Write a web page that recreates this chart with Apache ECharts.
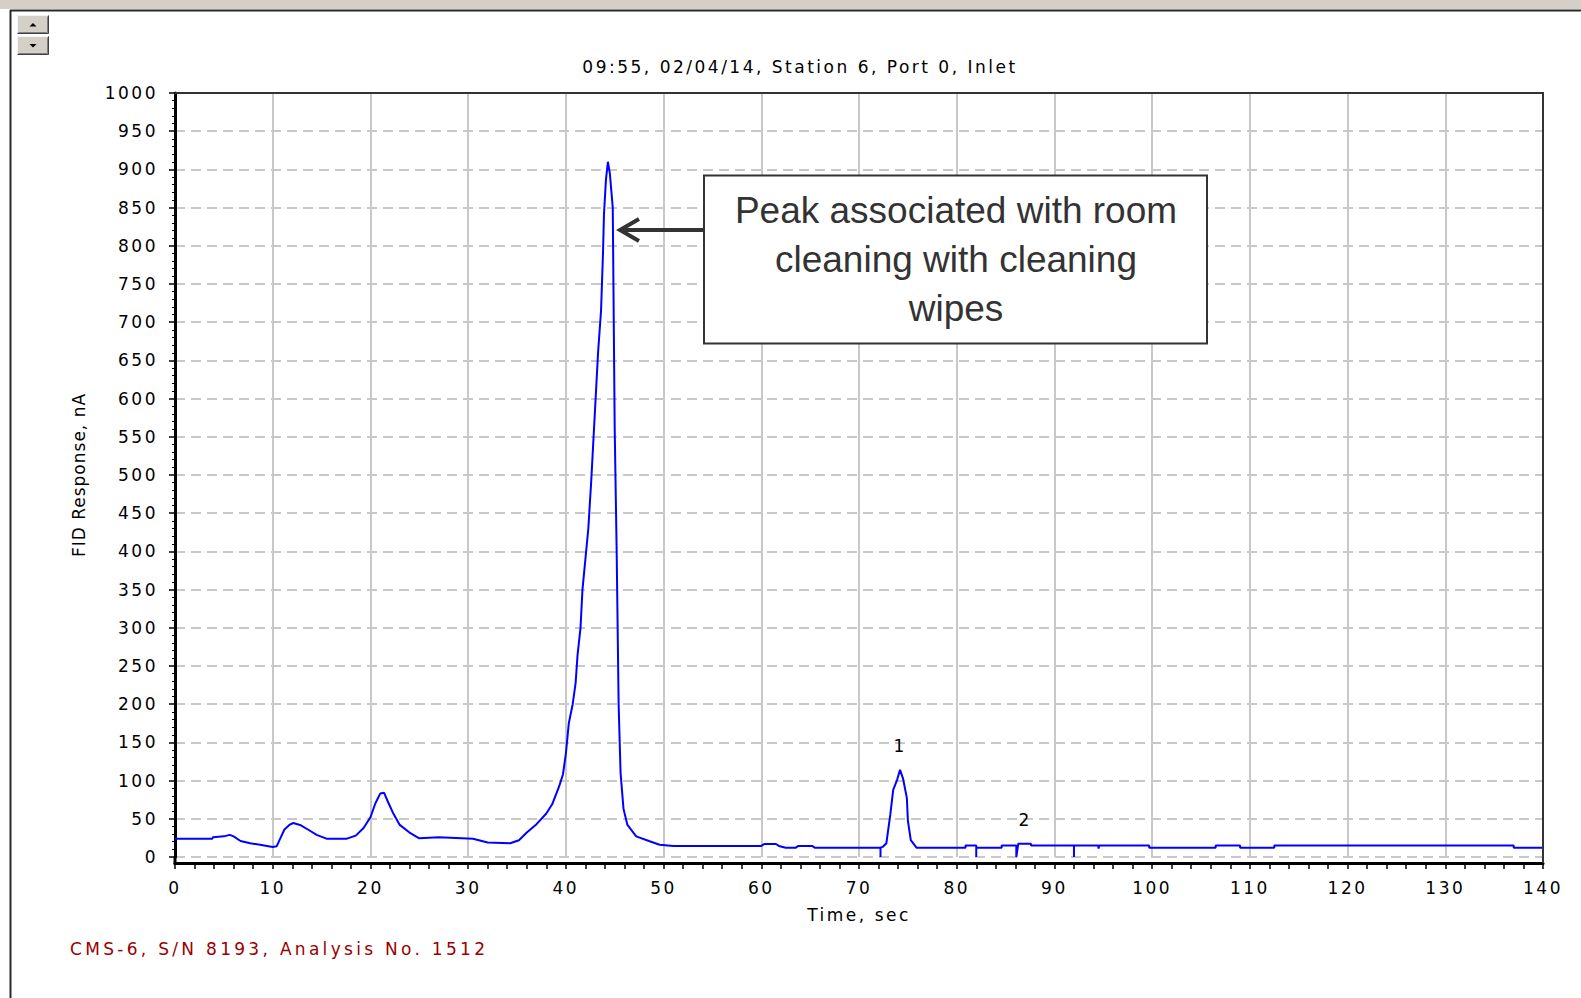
<!DOCTYPE html>
<html>
<head>
<meta charset="utf-8">
<script src="https://cdn.jsdelivr.net/npm/echarts@6/dist/echarts.min.js"></script>
<style>
  html, body { margin: 0; padding: 0; background: #fff; }
  #chart { width: 1581px; height: 998px; }
  #chart text[style*="DejaVu Sans"], #chart text[font-family*="DejaVu Sans"] { letter-spacing: 2.5px; }
  #chart text[style*="Verdana"], #chart text[font-family*="Verdana"] { letter-spacing: 1px; }
  #chart text[style*="Tahoma"], #chart text[font-family*="Tahoma"] { letter-spacing: 3.3px; }
</style>
</head>
<body>
<div id="chart"></div>
<script>
// ---- data ----
const titleText = '09:55, 02/04/14, Station 6, Port 0, Inlet';
const footerText = 'CMS-6, S/N 8193, Analysis No. 1512';
const annotationText = 'Peak associated with room\ncleaning with cleaning\nwipes';

const times = [
  0,3.8,3.9,5.0,5.6,6.0,6.7,7.7,8.7,10.0,
  10.4,10.8,11.2,11.7,12.1,12.8,13.6,14.5,15.5,17.6,
  18.5,19.3,20.0,20.5,21.0,21.4,21.8,22.3,23.0,24.0,
  25.0,27.0,30.5,32.0,34.3,35.2,36.0,37.0,38.0,38.6,
  39.3,39.7,40.0,40.3,40.7,41.0,41.2,41.5,41.7,42.0,
  42.3,42.6,42.8,43.1,43.3,43.6,43.8,43.9,44.1,44.3,
  44.5,44.8,45.0,45.2,45.4,45.6,45.9,46.3,47.2,48.5,
  49.6,51.0,60.0,60.3,61.5,61.8,62.5,63.5,63.8,65.2,
  65.5,72.2,72.2,72.2,72.5,72.8,73.2,73.5,73.9,74.2,
  74.5,74.9,75.0,75.3,75.9,80.9,80.9,82.0,82.0,82.0,
  84.6,84.6,86.1,86.1,86.3,87.6,87.6,92.0,92.0,92.0,
  94.5,94.5,94.6,99.7,99.7,106.5,106.5,109.0,109.0,112.5,
  112.5,137.0,137.0,140.0
];
const fid = [
  24,24,26,27,29,27,21,18,16,13,
  14,25,36,42,44.5,42,36,29,24,24,
  28,38,52,70,83,84,72,58,42,32,
  24.5,26,24,19,18,22,32,43,57,69,
  92,108,135,175,200,228,265,300,350,390,
  430,493,541,613,661,715,790,841,886,910,
  895,850,560,400,200,110,63,42,27,21,
  16,14.5,14.5,17,17,14.5,12,12,14.5,14.5,
  12,12,0,12,14,18,55,88,101,114,
  103,77,48,22,12,12,15,15,0,12,
  12,15,15,0,17.5,17.5,15,15,0,15,
  15,11,15,15,12,12,15,15,12,12,
  15,15,12,12
];
const peakNames = ['1', '2'];
const peakTimes = [74.2, 87.0];
const peakValues = [114, 17.5];

// ---- layout ----
const W = 1581, H = 998;
const G = { left: 175, right: 38, top: 93, bottom: 141 };
const plotRight = W - G.right, plotBottom = H - G.bottom;
const LABEL_FONT = 'DejaVu Sans';

const chart = echarts.init(document.getElementById('chart'), null, { renderer: 'svg', width: W, height: H });

const seriesData = times.map((t, i) => [t, fid[i]]);
const peakMarks = peakNames.map((n, i) => ({ name: n, coord: [peakTimes[i], peakValues[i]] }));

function bevelButton(y, up) {
  const x = 17, w = 32, h = 19;
  const cx = x + w / 2, cy = y + h / 2;
  return [
    { type: 'rect', z: 100, shape: { x: x, y: y, width: w, height: h }, style: { fill: '#d4d0c8' } },
    { type: 'polyline', z: 101, shape: { points: [[x + 0.5, y + h - 0.5], [x + 0.5, y + 0.5], [x + w - 0.5, y + 0.5]] }, style: { stroke: '#f4f4f4', lineWidth: 1, fill: null } },
    { type: 'polyline', z: 101, shape: { points: [[x + 0.5, y + h - 0.5], [x + w - 0.5, y + h - 0.5], [x + w - 0.5, y + 0.5]] }, style: { stroke: '#404040', lineWidth: 1, fill: null } },
    { type: 'polyline', z: 101, shape: { points: [[x + 1.5, y + h - 1.5], [x + w - 1.5, y + h - 1.5], [x + w - 1.5, y + 1.5]] }, style: { stroke: '#808080', lineWidth: 1, fill: null } },
    { type: 'polygon', z: 102, shape: { points: up ? [[cx - 3.5, cy + 2], [cx + 3.5, cy + 2], [cx, cy - 1.5]] : [[cx - 3.5, cy - 1.5], [cx + 3.5, cy - 1.5], [cx, cy + 2]] }, style: { fill: '#000' } }
  ];
}

const option = {
  backgroundColor: '#ffffff',
  animation: false,
  grid: { left: G.left, right: G.right, top: G.top, bottom: G.bottom, containLabel: false },
  xAxis: {
    type: 'value', min: 0, max: 140, interval: 10, offset: 6,
    name: 'Time, sec', nameLocation: 'middle', nameGap: 43,
    nameTextStyle: { fontFamily: LABEL_FONT, fontSize: 17, color: '#000' },
    axisLine: { show: true, onZero: false, lineStyle: { color: '#000', width: 3 } },
    axisTick: { show: true, inside: false, length: 6, lineStyle: { color: '#000', width: 1.5 } },
    minorTick: { show: true, splitNumber: 5, length: 6, lineStyle: { color: '#000', width: 1.5 } },
    axisLabel: { fontFamily: LABEL_FONT, fontSize: 17, color: '#000', margin: 16, formatter: v => String(v) },
    splitLine: { show: true, lineStyle: { color: '#c8c8c8', width: 2, type: 'solid' } },
    minorSplitLine: { show: false }
  },
  yAxis: {
    type: 'value', min: 0, max: 1000, interval: 50,
    name: 'FID Response, nA', nameLocation: 'middle', nameGap: 88,
    nameTextStyle: { fontFamily: "Verdana, 'DejaVu Sans'", fontSize: 17, color: '#000' },
    axisLine: { show: true, lineStyle: { color: '#000', width: 3 } },
    axisTick: { show: true, inside: false, length: 6, lineStyle: { color: '#000', width: 1.5 } },
    minorTick: { show: true, splitNumber: 5, length: 3, lineStyle: { color: '#000', width: 1 } },
    axisLabel: { fontFamily: LABEL_FONT, fontSize: 17, color: '#000', margin: 17, formatter: v => String(v) },
    splitLine: { show: true, lineStyle: { color: '#c8c8c8', width: 2, type: [10, 6] } }
  },
  series: [{
    type: 'line',
    data: seriesData,
    showSymbol: false,
    symbol: 'none',
    lineStyle: { color: '#0000ff', width: 2 },
    z: 5,
    markPoint: {
      symbol: 'circle', symbolSize: 1,
      itemStyle: { color: 'rgba(0,0,0,0)' },
      label: { show: true, position: 'inside', offset: [0, -24], formatter: '{b}', fontFamily: LABEL_FONT, fontSize: 17, color: '#000' },
      data: peakMarks
    }
  }],
  graphic: {
    elements: [
      // window chrome
      { type: 'rect', z: 100, shape: { x: 0, y: 0, width: W, height: 9 }, style: { fill: '#d4d0c8' } },
      { type: 'line', z: 100, shape: { x1: 10, y1: 10.5, x2: W, y2: 10.5 }, style: { stroke: '#2a2a2a', lineWidth: 2 } },
      { type: 'line', z: 100, shape: { x1: 10.5, y1: 10, x2: 10.5, y2: H }, style: { stroke: '#2a2a2a', lineWidth: 2 } },
      ...bevelButton(15, true),
      ...bevelButton(36, false),
      // plot frame (top/right) and left axis extension
      { type: 'polyline', z: 100, shape: { points: [[G.left, G.top], [plotRight, G.top], [plotRight, plotBottom + 6]] }, style: { stroke: '#333', lineWidth: 2, fill: null } },
      { type: 'line', z: 100, shape: { x1: G.left, y1: plotBottom - 1, x2: G.left, y2: plotBottom + 7.5 }, style: { stroke: '#000', lineWidth: 3 } },
      // title and footer
      { type: 'text', z: 100, style: { text: titleText, x: 800, y: 66.5, fontFamily: LABEL_FONT, fontSize: 17, fill: '#000', textAlign: 'center', textVerticalAlign: 'middle', align: 'center', verticalAlign: 'middle' } },
      { type: 'text', z: 100, style: { text: footerText, x: 70, y: 949, fontFamily: "'DejaVu Sans', Tahoma", fontSize: 17, fill: '#990000', textAlign: 'left', textVerticalAlign: 'middle', align: 'left', verticalAlign: 'middle' } },
      // annotation
      { type: 'rect', z: 110, shape: { x: 704, y: 175.5, width: 503, height: 168 }, style: { fill: '#fff', stroke: '#333', lineWidth: 2 } },
      { type: 'text', z: 111, style: { text: annotationText, x: 956, y: 259, fontFamily: 'Liberation Sans', fontSize: 37, lineHeight: 49, fill: '#333', textAlign: 'center', textVerticalAlign: 'middle', align: 'center', verticalAlign: 'middle' } },
      { type: 'line', z: 110, shape: { x1: 703, y1: 230, x2: 622, y2: 230 }, style: { stroke: '#333', lineWidth: 4 } },
      { type: 'polyline', z: 110, shape: { points: [[639, 219], [620, 230], [639, 241]] }, style: { stroke: '#333', lineWidth: 4, fill: null, lineJoin: 'miter' } }
    ]
  }
};
chart.setOption(option);
</script>
</body>
</html>
